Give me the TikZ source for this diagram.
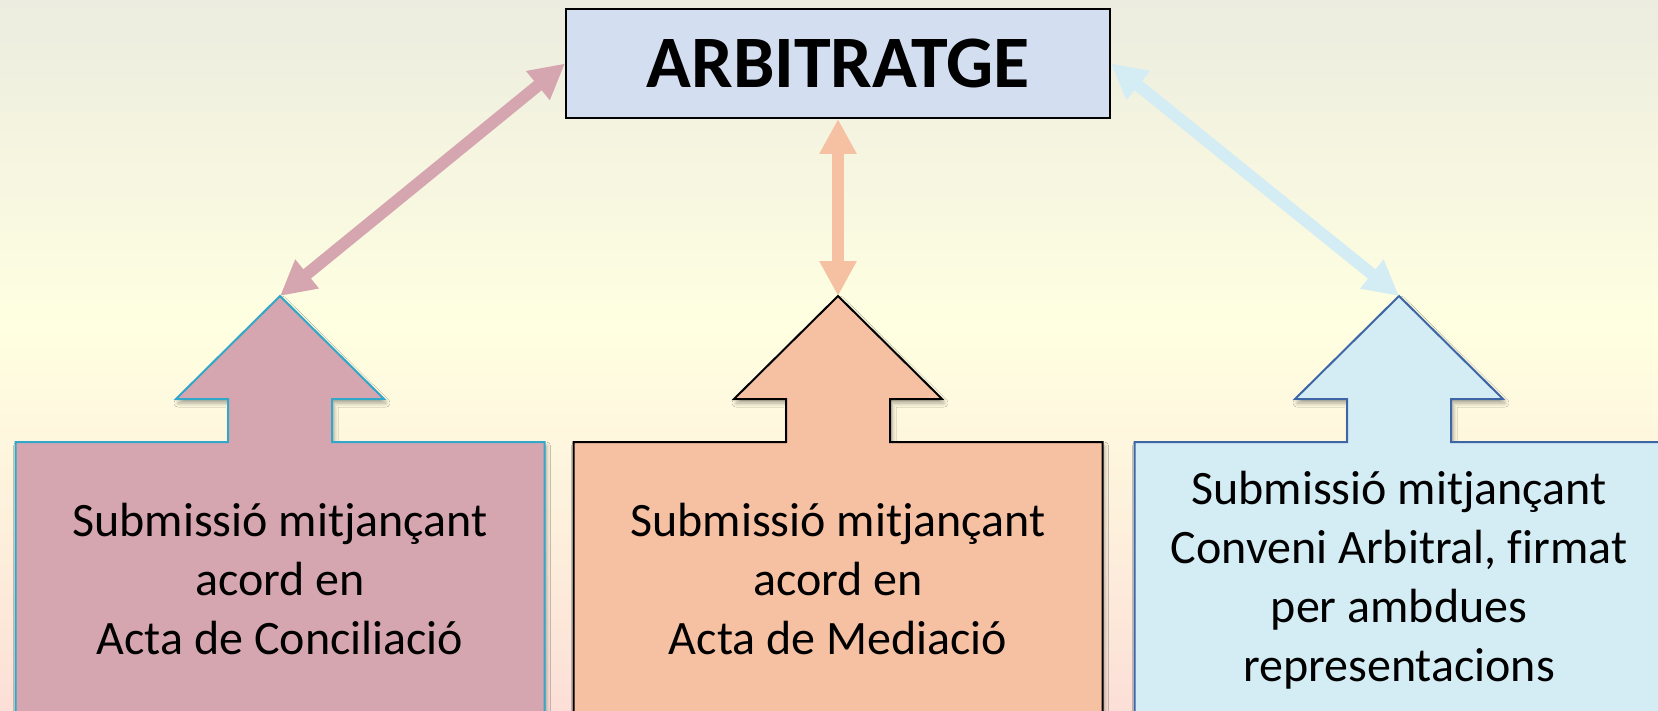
\documentclass[tikz,border=0pt]{standalone}
\usepackage{fontspec}
\setmainfont{Carlito}[Ligatures=NoCommon]
\usetikzlibrary{positioning,arrows.meta,shadows.blur}

\definecolor{bgtop}{HTML}{ECECE0}
\definecolor{bgmid}{HTML}{FFFFE1}
\definecolor{bglow}{HTML}{FDF0DC}
\definecolor{bgbot}{HTML}{FCDFD7}
\definecolor{topfill}{HTML}{D3DFF0}
\definecolor{concfill}{HTML}{D5A6AF}
\definecolor{concline}{HTML}{31A7C9}
\definecolor{medfill}{HTML}{F6C1A3}
\definecolor{convfill}{HTML}{D4ECF4}
\definecolor{convline}{HTML}{3E66A6}

\pgfdeclareverticalshading{backdrop}{100bp}{color(0bp)=(bgbot); color(25bp)=(bgbot); color(38bp)=(bglow); color(52bp)=(bgmid); color(75bp)=(bgtop); color(100bp)=(bgtop)}

\tikzset{
  topbox/.style={draw=black, line width=1pt, fill=topfill, minimum width=272pt, minimum height=54.5pt, inner sep=0pt, font=\fontsize{37}{40}\selectfont\bfseries},
  blocktext/.style={align=center, font=\fontsize{24}{29.5}\selectfont},
  blockshape/.style={line width=1pt, blur shadow={shadow xshift=1pt, shadow yshift=-2pt, shadow opacity=35, shadow blur radius=2pt}},
  link/.style={line width=6pt, {Triangle[length=17.5pt,width=17.5pt]}-{Triangle[length=17.5pt,width=17.5pt]}},
}

\begin{document}
\begin{tikzpicture}[x=0.5pt, y=-0.5pt]
    \useasboundingbox (0,0) rectangle (1658,711);
    \clip (0,0) rectangle (1658,711);
    % Background
    \shade[shading=backdrop] (0,0) rectangle (1658,711);

    % Top box
    \node[topbox] (arb) at (838,63.5) {ARBITRATGE};

    % Conciliation
    \begin{scope}[shift={(280,0)}]
        \draw[blockshape, fill=concfill, draw=concline] (0,296) coordinate (capex) -- (104,399) -- (52,399) -- (52,442) -- (264.5,442) -- (264.5,730) -- (-264.5,730) -- (-264.5,442) -- (-52,442) -- (-52,399) -- (-104,399) -- cycle;
        \node[blocktext] (conc) at (0,579) {Submissió mitjançant\\acord en\\Acta de Conciliació};
    \end{scope}

    % Mediation
    \begin{scope}[shift={(838,0)}]
        \draw[blockshape, fill=medfill, draw=black] (0,296) coordinate (mapex) -- (104,399) -- (52,399) -- (52,442) -- (264.5,442) -- (264.5,730) -- (-264.5,730) -- (-264.5,442) -- (-52,442) -- (-52,399) -- (-104,399) -- cycle;
        \node[blocktext] (med) at (0,579) {Submissió mitjançant\\acord en\\Acta de Mediació};
    \end{scope}

    % Arbitral agreement
    \begin{scope}[shift={(1399,0)}]
        \draw[blockshape, fill=convfill, draw=convline] (0,296) coordinate (vapex) -- (104,399) -- (52,399) -- (52,442) -- (264.5,442) -- (264.5,730) -- (-264.5,730) -- (-264.5,442) -- (-52,442) -- (-52,399) -- (-104,399) -- cycle;
        \node[blocktext] (conv) at (0,580) {Submissió mitjançant\\Conveni Arbitral, firmat\\per ambdues\\representacions};
    \end{scope}

    % Links
    \draw[link, concfill] (arb.west) -- (capex);
    \draw[link, medfill] (arb.south) -- (mapex);
    \draw[link, convfill] (arb.east) -- (vapex);
\end{tikzpicture}
\end{document}
